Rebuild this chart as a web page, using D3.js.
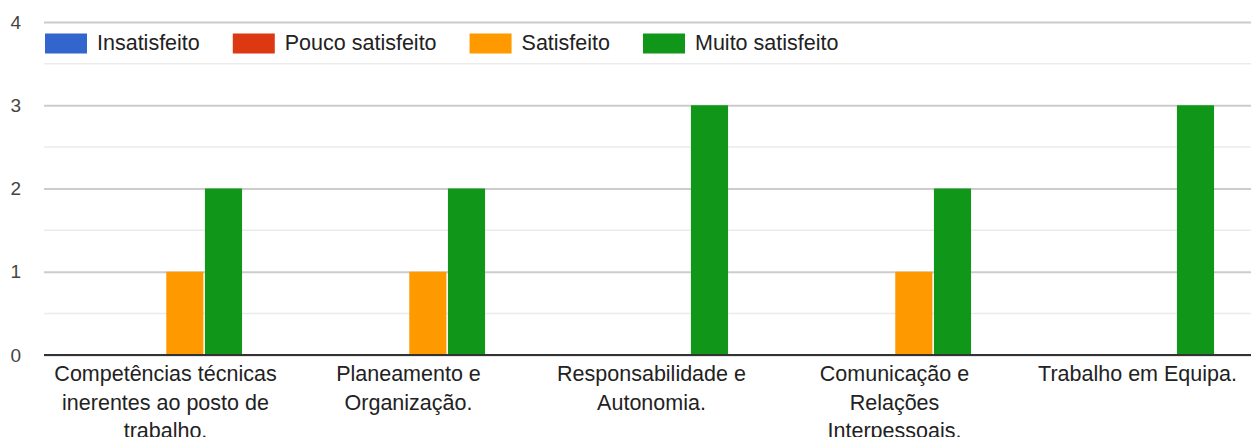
<!DOCTYPE html>
<html>
<head>
<meta charset="utf-8">
<script src="https://cdn.jsdelivr.net/npm/d3@7"></script>
<style>
  body { margin: 0; background: #fff; }
  svg { display: block; font-family: "Liberation Sans", Arial, sans-serif; }
</style>
</head>
<body>
<svg width="1251" height="437"></svg>
<script>
// categories (wrapped the way the original chart wraps them)
const categories = [
  "Competências técnicas inerentes ao posto de trabalho.",
  "Planeamento e Organização.",
  "Responsabilidade e Autonomia.",
  "Comunicação e Relações Interpessoais.",
  "Trabalho em Equipa."
]
const categoryLines = [
  ["Competências técnicas", "inerentes ao posto de", "trabalho."],
  ["Planeamento e", "Organização."],
  ["Responsabilidade e", "Autonomia."],
  ["Comunicação e", "Relações", "Interpessoais."],
  ["Trabalho em Equipa."]
]
const series = ["Insatisfeito", "Pouco satisfeito", "Satisfeito", "Muito satisfeito"]
const insatisfeito = [0, 0, 0, 0, 0]
const poucoSatisfeito = [0, 0, 0, 0, 0]
const satisfeito = [1, 1, 0, 1, 0]
const muitoSatisfeito = [2, 2, 3, 2, 3]
const yTicks = [0, 1, 2, 3, 4]

const colors = ["#3366cc", "#dc3912", "#ff9900", "#109618"]
const values = [insatisfeito, poucoSatisfeito, satisfeito, muitoSatisfeito]

const svg = d3.select("svg")

const x0 = d3.scaleBand().domain(categories).range([44, 1259]).paddingInner(0.37).paddingOuter(0.185)
const x1 = d3.scaleBand().domain(series).range([0, x0.bandwidth()]).paddingInner(0.04)
const y = d3.scaleLinear().domain([0, 4]).range([355, 22])

// minor gridlines
svg.append("g").selectAll("line")
  .data(y.ticks(8).filter(d => !Number.isInteger(d)))
  .enter().append("line")
  .attr("x1", 44).attr("x2", 1251)
  .attr("y1", d => y(d)).attr("y2", d => y(d))
  .attr("stroke", "#ebebeb").attr("stroke-width", 1.5)

// major gridlines
const yAxis = d3.axisLeft(y).tickValues(yTicks).tickFormat(d3.format("d"))
  .tickSize(-(1251 - 44)).tickPadding(23)
svg.append("g").attr("id", "yAxisG")
  .attr("transform", "translate(44,0)")
  .call(yAxis)
  .call(g => g.select(".domain").remove())
  .call(g => g.selectAll(".tick line").attr("stroke", "#cccccc").attr("stroke-width", 2))
  .call(g => g.selectAll(".tick text")
    .attr("fill", "#444").attr("font-size", 19).attr("font-family", "Liberation Sans, Arial"))

// bars
const rows = categories.map((c, i) => ({ cat: c, vals: series.map((s, j) => ({ s, j, v: values[j][i] })) }))
svg.append("g").selectAll("g")
  .data(rows)
  .enter().append("g")
  .attr("transform", d => `translate(${x0(d.cat)},0)`)
  .selectAll("rect")
  .data(d => d.vals.filter(e => e.v > 0))
  .enter().append("rect")
  .attr("x", d => x1(d.s))
  .attr("width", x1.bandwidth())
  .attr("y", d => y(d.v))
  .attr("height", d => y(0) - y(d.v))
  .attr("fill", d => colors[d.j])

// baseline
svg.append("line")
  .attr("x1", 44).attr("x2", 1251)
  .attr("y1", y(0)).attr("y2", y(0))
  .attr("stroke", "#333").attr("stroke-width", 2)

// category labels
const lab = svg.append("g").selectAll("text")
  .data(categories)
  .enter().append("text")
  .attr("x", d => x0(d) + x0.bandwidth() / 2)
  .attr("y", 381)
  .attr("text-anchor", "middle")
  .attr("font-size", 21.5)
  .attr("fill", "#222")
lab.selectAll("tspan")
  .data((d, i) => categoryLines[i])
  .enter().append("tspan")
  .attr("x", function() { return this.parentNode.getAttribute("x") })
  .attr("dy", (d, i) => i === 0 ? 0 : 28.5)
  .text(d => d)

// legend
const legend = svg.append("g")
let lx = 45
series.forEach((s, i) => {
  legend.append("rect")
    .attr("x", lx).attr("y", 33.5)
    .attr("width", 42).attr("height", 20)
    .attr("fill", colors[i])
  const t = legend.append("text")
    .attr("x", lx + 52).attr("y", 50)
    .attr("font-size", 21.5)
    .attr("fill", "#222")
    .text(s)
  lx = lx + 52 + t.node().getComputedTextLength() + 33
})
</script>
</body>
</html>
